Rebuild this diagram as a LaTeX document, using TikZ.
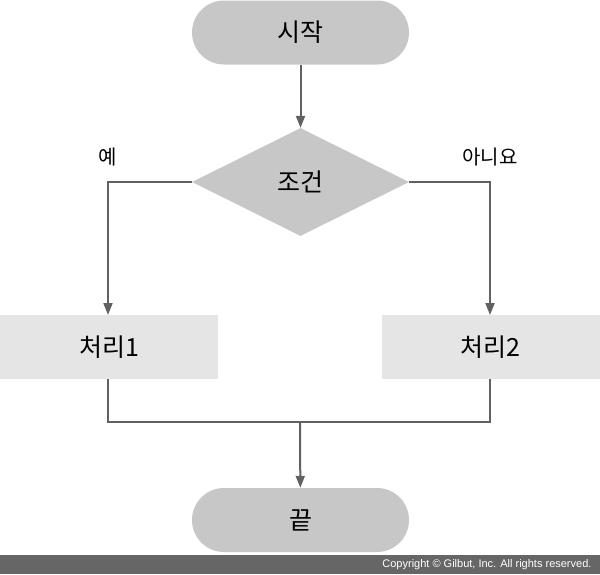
\documentclass[tikz,border=0pt]{standalone}
\usepackage{fontspec}
\setmainfont{Noto Sans CJK KR}
\usetikzlibrary{shapes.geometric,arrows.meta}
\begin{document}
\begin{tikzpicture}[x=1pt,y=-1pt,
  pill/.style={draw=none,fill=black!22,rounded corners=32pt,minimum width=217pt,minimum height=64pt,font=\fontsize{25}{30}\selectfont},
  dia/.style={draw=none,fill=black!22,diamond,aspect=2,minimum width=217pt,minimum height=108pt,inner sep=0pt,font=\fontsize{25}{30}\selectfont},
  proc/.style={draw=none,fill=black!10,minimum width=218pt,minimum height=64pt,font=\fontsize{25}{30}\selectfont},
  conn/.style={draw=black!62,line width=2pt},
  arr/.style={conn,-{Triangle[length=12pt,width=9pt]}},
  lbl/.style={font=\fontsize{20}{24}\selectfont}]
\useasboundingbox (0,0) rectangle (600,574);
\fill[black!60] (0,555) rectangle (600,574);
\node[text=white,anchor=east,font=\fontsize{11}{13}\fontspec{Liberation Sans}] (copy) at (595,565) {Copyright © Gilbut, Inc. All rights reserved.};
\node[pill] (start) at (300.5,32.5) {시작};
\node[dia] (cond) at (300.5,182) {조건};
\node[proc,anchor=north west] (p1) at (0,315) {처리1};
\node[proc,anchor=north east] (p2) at (600,315) {처리2};
\node[pill] (end) at (300.5,520) {끝};
\node[lbl] (yes) at (108,157) {예};
\node[lbl] (no) at (490,157) {아니요};
\coordinate (mL) at (108,379);
\coordinate (mR) at (490,379);
\coordinate (mj) at (300,422);
\draw[arr] (start) -- (cond);
\draw[arr] (cond.west) -| (mL |- p1.north);
\draw[arr] (cond.east) -| (mR |- p2.north);
\draw[conn] (mL) |- (mj) -| (mR);
\draw[arr] (mj) -- (end);
\end{tikzpicture}
\end{document}
